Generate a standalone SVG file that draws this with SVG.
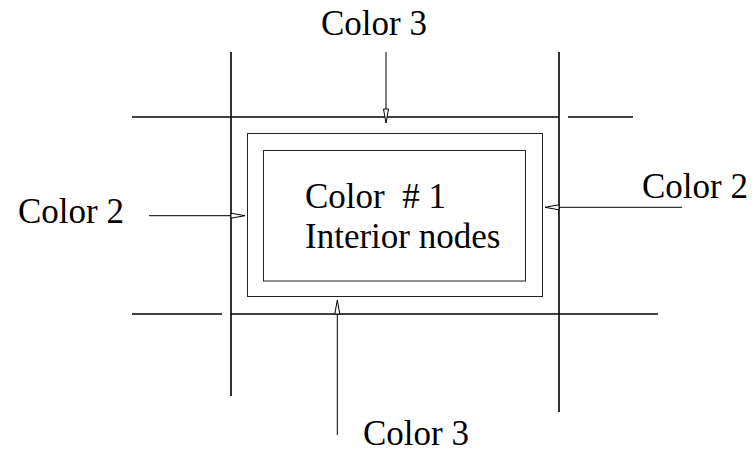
<svg xmlns="http://www.w3.org/2000/svg" width="755" height="452" viewBox="0 0 755 452">
<style>
.grid{stroke:#000;stroke-width:1.6;fill:none}
.box{stroke:#222;stroke-width:1;fill:none}
.arr{stroke:#000;stroke-width:1;fill:none}
.head{stroke:#000;stroke-width:1;fill:#fff}
text{font-family:"Liberation Serif","Times New Roman",serif;font-size:35px;fill:#000}
</style>
<rect width="755" height="452" fill="#fff"/>
<g id="grid">
<line class="grid" x1="231" y1="52" x2="231" y2="396"/>
<line class="grid" x1="559" y1="52" x2="559" y2="412"/>
<line class="grid" x1="132" y1="117" x2="559" y2="117"/>
<line class="grid" x1="568" y1="117" x2="633" y2="117"/>
<line class="grid" x1="132" y1="314" x2="222" y2="314"/>
<line class="grid" x1="231" y1="314" x2="658" y2="314"/>
</g>
<g id="outer-box">
<rect class="box" x="247.5" y="133.5" width="295" height="163"/>
</g>
<g id="interior">
<rect class="box" x="263.5" y="150.5" width="262" height="130.5"/>
<text x="305" y="208" xml:space="preserve">Color  # 1</text>
<text x="305" y="248">Interior nodes</text>
</g>
<g id="label-top"><text x="321" y="35">Color 3</text></g>
<g id="label-left"><text x="18" y="223">Color 2</text></g>
<g id="label-right"><text x="642" y="198">Color 2</text></g>
<g id="label-bottom"><text x="363" y="445">Color 3</text></g>
<g id="connectors">
<line class="arr" x1="386" y1="52" x2="386" y2="109"/>
<polygon class="head" points="383.5,109 388.5,109 386,123"/>
<line class="arr" x1="149" y1="215.7" x2="231" y2="215.7"/>
<polygon class="head" points="231,213.2 231,218.2 245,215.7"/>
<line class="arr" x1="682" y1="207.3" x2="559" y2="207.3"/>
<polygon class="head" points="559,204.8 559,209.8 545,207.3"/>
<line class="arr" x1="337.3" y1="435" x2="337.3" y2="314"/>
<polygon class="head" points="334.8,314 339.8,314 337.3,300"/>
</g>
</svg>
